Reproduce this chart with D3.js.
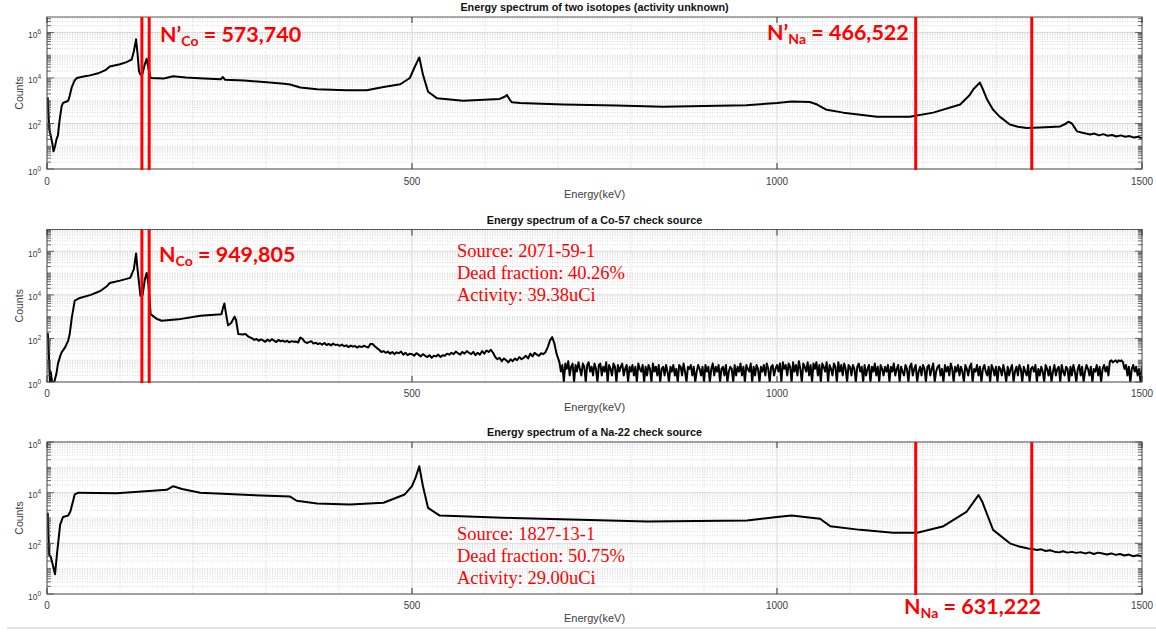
<!DOCTYPE html>
<html>
<head>
<meta charset="utf-8">
<script src="https://cdn.jsdelivr.net/npm/d3@7"></script>
<style>
  body { margin: 0; background: #fff; }
  svg { display: block; font-family: "Liberation Sans", Arial, sans-serif; }
</style>
</head>
<body>
<div class="canva"></div>
<script>
// ---- data (energy keV, counts) ----
const xTicks = [0, 500, 1000, 1500];
const yTickExp = [0, 2, 4, 6];
const titles = [
  'Energy spectrum of two isotopes (activity unknown)',
  'Energy spectrum of a Co-57 check source',
  'Energy spectrum of a Na-22 check source'
];
const coWindow = [130, 140];
const naWindow = [1190, 1349];

const mixPts = [
  [1,1400],[2,300],[3,60],[5,30],[7,15],[9,6],[11,10],[13,20],[15,30],[17,120],[20,560],[22,800],
  [26,900],[29,1000],[31,1600],[34,4000],[38,8000],[41,10000],[50,11500],[59,13000],[70,16000],
  [80,22000],[86,32000],[100,40000],[109,50000],[116,65000],[119,150000],[122,500000],[124,120000],
  [126,20000],[128,14000],[131,16000],[134,40000],[136.5,70000],[139,25000],[142,10000],[160,9500],
  [173,12000],[190,10500],[215,9500],[238,8800],[241,11000],[244,8300],[270,7800],[301,6500],
  [325,5600],[333,5200],[347,3800],[370,3200],[410,2900],[438,2900],[461,4000],[484,5300],
  [497,10000],[504,32000],[510,80000],[515,14000],[522,2500],[534,1300],[570,1000],[620,1200],
  [627,1500],[630,1800],[634,1100],[637,850],[648,800],[707,680],[780,620],[844,550],[900,580],
  [958,630],[1000,800],[1020,930],[1045,880],[1055,680],[1068,400],[1091,300],[1137,200],
  [1182,200],[1214,300],[1251,680],[1264,1800],[1269,3200],[1278,6300],[1282,3200],[1288,1100],
  [1296,400],[1305,200],[1319,90],[1330,72],[1342,63],[1360,66],[1375,70],[1388,74],[1396,100],
  [1399,120],[1404,100],[1411,45],[1417,40],[1423,36],[1429,33],[1435,36],[1441,30],[1447,34],
  [1453,29],[1459,31],[1465,27],[1471,30],[1477,26],[1483,28],[1489,24],[1495,26],[1500,22]
];

const coPts = [
  [1,180],[2,60],[3,8],[4,1],[5,3],[7,1],[10,1],[13,2.5],[15,7],[18,15],[20,23],[25,40],[29,80],
  [31,150],[34,900],[38,5400],[45,7200],[60,10000],[73,15000],[82,25000],[86,35000],[100,45000],
  [114,60000],[119,150000],[122,800000],[124,150000],[128,9000],[131,10000],[134,50000],
  [136.5,100000],[139,30000],[142,1300],[150,800],[157,650],[180,750],[210,1100],[239,1300],
  [241,2500],[243,4000],[245,1500],[248,400],[252,500],[257,1000],[259,700],[262,160],[268,150],
  [272,160],[276,120]
];
// Co-57 continuum, one value every 3 keV from 281 keV
const coMidStart = 281, coMidStep = 3;
const coMid = [
  100,85,95,78,90,82,70,88,75,92,80,68,85,74,80,70,78,66,75,70,
  72,65,110,95,70,62,68,75,58,64,55,60,52,62,50,56,48,58,50,52,
  46,52,44,48,40,47,42,45,38,44,40,46,42,38,55,56,44,36,30,24,
  26,22,25,20,24,19,23,21,25,18,22,17,20,19,16,21,18,15,19,16,
  14,17,13,16,15,18,14,17,16,20,18,22,19,25,21,18,24,20,26,22,
  19,24,17,22,18,26,20,28,24,30,22,14,11,13,9,12,10,8,11,9,
  12,10,14,11,13,16,12,20,15,22,18,16,21,19,24,40,80,115,60,20
];
// Co-57 noisy tail, one value every 2 keV from 702 keV
const coNoiseStart = 702, coNoiseStep = 2;
const coNoise = [
  8,3,6,1,7,4,9,2,5,7,1,6,3,8,4,2,7,5,1,6,8,3,5,2,7,
  4,1,6,7,2,5,3,8,1,6,4,2,7,5,1,6,3,5,7,2,4,6,1,5,3,
  6,2,5,1,7,4,3,6,1,5,2,6,4,1,7,3,5,2,6,1,4,5,2,6,3,
  1,5,3,6,2,4,1,6,5,2,7,3,1,5,4,6,2,5,1,3,6,4,2,5,1,
  6,3,5,1,4,7,2,5,3,6,1,4,5,2,6,1,3,5,4,1,6,2,5,3,7,
  2,5,1,6,4,3,7,1,5,2,6,4,1,5,3,6,2,7,4,1,5,6,2,4,6,
  3,7,1,8,4,6,2,7,5,1,8,3,6,2,9,4,1,7,5,3,8,2,6,1,7,
  4,8,2,6,1,7,5,3,8,1,6,4,2,7,5,1,8,3,6,2,7,4,1,6,5,
  2,6,4,1,5,7,3,5,1,6,2,4,6,1,5,3,7,2,5,1,6,4,2,5,3,
  6,1,5,3,7,2,4,6,1,5,3,2,6,4,1,5,7,2,4,6,1,3,5,2,6,
  4,1,5,6,2,4,7,1,3,5,6,2,4,1,6,3,5,2,7,4,1,5,3,6,2,
  5,3,1,6,4,2,5,7,1,4,3,6,2,5,1,4,6,3,2,5,1,6,4,2,5,
  1,5,4,2,6,3,1,5,2,4,6,1,3,5,2,6,4,1,5,3,2,6,1,4,5,
  3,6,1,4,2,5,3,1,6,4,2,5,1,3,6,2,4,5,1,6,3,2,5,4,1,
  5,2,6,3,1,4,6,2,5,1,3,6,4,2,5,1,4,3,6,2,5,1,4,6,3,
  5,2,9,10,8,9,10,8,10,9,10,8,4,6,2,5,1,4,6,3,5,2,4,1,5
];

const naPts = [
  [1,1600],[3,35],[5,30],[8,14],[11,6],[14,47],[18,550],[22,1100],[29,1250],[32,1800],[38,8500],
  [43,10000],[95,9500],[130,11000],[164,13000],[173,18000],[185,14000],[210,10000],[278,8000],
  [333,7000],[342,4800],[370,3700],[415,3400],[461,4000],[490,8500],[500,18000],[505,40000],
  [510,110000],[515,18000],[522,2500],[538,1250],[638,1000],[822,720],[959,800],[1000,1100],
  [1020,1250],[1059,930],[1073,470],[1114,340],[1159,260],[1192,260],[1227,460],[1260,1800],
  [1276,8000],[1281,4500],[1296,340],[1319,100],[1326,85],[1332,75],[1338,68],[1344,62],
  [1350,60],[1356,55],[1362,58],[1368,50],[1374,53],[1380,47],[1386,44],[1392,49],[1398,43],
  [1404,46],[1410,42],[1416,45],[1422,40],[1428,44],[1434,38],[1440,43],[1446,40],[1452,36],
  [1458,40],[1464,35],[1470,38],[1476,33],[1482,36],[1488,31],[1494,34],[1500,30]
];

const coInfo = ['Source: 2071-59-1', 'Dead fraction: 40.26%', 'Activity: 39.38uCi'];
const naInfo = ['Source: 1827-13-1', 'Dead fraction: 50.75%', 'Activity: 29.00uCi'];

// Co-57 series assembled from the pieces above
const coSeries = coPts
  .concat(coMid.map((v, i) => [coMidStart + i * coMidStep, v]))
  .concat(coNoise.map((v, i) => [coNoiseStart + i * coNoiseStep, v]));

// ---- layout ----
const svg = d3.select('.canva').append('svg')
  .attr('width', 1156).attr('height', 632);

const x = d3.scaleLinear().domain([0, 1500]).range([47, 1142]);

const panels = [
  { title: titles[0], top: 17, bottom: 169, yMax: Math.pow(10, 6.68), data: mixPts,
    titleY: 11, tickY: 185, labelY: 198, windows: [coWindow, naWindow] },
  { title: titles[1], top: 229.5, bottom: 382, yMax: 1e7, data: coSeries,
    titleY: 224, tickY: 397, labelY: 411, windows: [coWindow] },
  { title: titles[2], top: 442, bottom: 594, yMax: 1e6, data: naPts,
    titleY: 436, tickY: 609, labelY: 622, windows: [naWindow] }
];

panels.forEach((p, i) => {
  const y = d3.scaleLog().domain([1, p.yMax]).range([p.bottom, p.top]);
  const g = svg.append('g');
  const x0 = x.range()[0], x1 = x.range()[1];

  // grid
  const minorX = d3.range(100, 1500, 100).filter(v => v % 500 !== 0);
  const minorY = [];
  for (let d = 0; d < 7; d++) {
    for (let k = 1; k < 10; k++) {
      const v = k * Math.pow(10, d);
      if (v < p.yMax && !(k === 1 && yTickExp.includes(d))) minorY.push(v);
    }
  }
  g.selectAll('.mgx').data(minorX).enter().append('line')
    .attr('x1', d => x(d)).attr('x2', d => x(d)).attr('y1', p.top).attr('y2', p.bottom)
    .attr('stroke', '#cfcfcf').attr('stroke-width', 0.8).attr('stroke-dasharray', '1,1.5');
  g.selectAll('.mgy').data(minorY).enter().append('line')
    .attr('x1', x0).attr('x2', x1).attr('y1', d => y(d)).attr('y2', d => y(d))
    .attr('stroke', '#cfcfcf').attr('stroke-width', 0.8).attr('stroke-dasharray', '1,1.5');
  g.selectAll('.gx').data(xTicks).enter().append('line')
    .attr('x1', d => x(d)).attr('x2', d => x(d)).attr('y1', p.top).attr('y2', p.bottom)
    .attr('stroke', '#dadada').attr('stroke-width', 1);
  g.selectAll('.gy').data(yTickExp).enter().append('line')
    .attr('x1', x0).attr('x2', x1).attr('y1', d => y(Math.pow(10, d))).attr('y2', d => y(Math.pow(10, d)))
    .attr('stroke', '#dadada').attr('stroke-width', 1);

  // spectrum
  const clipId = 'clip' + i;
  svg.append('clipPath').attr('id', clipId).append('rect')
    .attr('x', x0).attr('y', p.top).attr('width', x1 - x0).attr('height', p.bottom - p.top);
  const line = d3.line().x(d => x(d[0])).y(d => y(d[1]));
  g.append('path').datum(p.data)
    .attr('clip-path', 'url(#' + clipId + ')')
    .attr('d', line).attr('fill', 'none')
    .attr('stroke', '#000').attr('stroke-width', 2).attr('stroke-linejoin', 'round');

  // box and ticks
  g.append('rect').attr('x', x0).attr('y', p.top).attr('width', x1 - x0).attr('height', p.bottom - p.top)
    .attr('fill', 'none').attr('stroke', '#555').attr('stroke-width', 1);
  xTicks.forEach(v => {
    g.append('line').attr('x1', x(v)).attr('x2', x(v)).attr('y1', p.bottom).attr('y2', p.bottom - 6)
      .attr('stroke', '#333');
    g.append('line').attr('x1', x(v)).attr('x2', x(v)).attr('y1', p.top).attr('y2', p.top + 6)
      .attr('stroke', '#333');
    g.append('text').attr('x', x(v)).attr('y', p.tickY).attr('text-anchor', 'middle')
      .attr('font-size', 10).attr('fill', '#404040').text(v);
  });
  const yTickLines = minorY.map(v => [v, 4]).concat(yTickExp.map(d => [Math.pow(10, d), 7]));
  yTickLines.forEach(t => {
    g.append('line').attr('x1', x0).attr('x2', x0 + t[1]).attr('y1', y(t[0])).attr('y2', y(t[0]))
      .attr('stroke', '#444').attr('stroke-width', 0.8);
    g.append('line').attr('x1', x1).attr('x2', x1 - t[1]).attr('y1', y(t[0])).attr('y2', y(t[0]))
      .attr('stroke', '#444').attr('stroke-width', 0.8);
  });
  yTickExp.forEach(d => {
    const t = g.append('text').attr('x', 41).attr('y', y(Math.pow(10, d)) + 5.5)
      .attr('text-anchor', 'end').attr('font-size', 8.5).attr('fill', '#404040');
    t.append('tspan').text('10');
    t.append('tspan').attr('dy', -4).attr('font-size', 6.5).text(d);
  });

  // labels
  g.append('text').attr('x', (x0 + x1) / 2).attr('y', p.titleY).attr('text-anchor', 'middle')
    .attr('font-size', 10.8).attr('font-weight', 'bold').attr('fill', '#111').text(p.title);
  g.append('text').attr('x', (x0 + x1) / 2).attr('y', p.labelY).attr('text-anchor', 'middle')
    .attr('font-size', 11).attr('fill', '#404040').text('Energy(keV)');
  const cy = (p.top + p.bottom) / 2;
  g.append('text').attr('transform', 'translate(23,' + cy + ') rotate(-90)')
    .attr('text-anchor', 'middle').attr('font-size', 10.5).attr('fill', '#404040').text('Counts');

  // red integration windows
  p.windows.forEach(w => {
    w.forEach(e => {
      g.append('line').attr('x1', x(e)).attr('x2', x(e)).attr('y1', p.top).attr('y2', p.bottom + 1)
        .attr('stroke', '#ff0000').attr('stroke-width', 3);
    });
  });
});

// ---- annotations ----
function countLabel(px, py, sub, value, prime) {
  const t = svg.append('text').attr('x', px).attr('y', py)
    .attr('font-family', 'Lato, "Open Sans", sans-serif').attr('font-weight', 'bold')
    .attr('font-size', 21.5).attr('fill', '#ff0000');
  t.append('tspan').text(prime ? 'N\u2019' : 'N');
  t.append('tspan').attr('dy', 4).attr('font-size', 14).text(sub);
  t.append('tspan').attr('dy', -4).text(' = ' + value);
}
countLabel(160, 42, 'Co', '573,740', true);
countLabel(767, 39.5, 'Na', '466,522', true);
countLabel(159, 262, 'Co', '949,805', false);
countLabel(904, 614, 'Na', '631,222', false);

function infoBlock(lines, px, py) {
  lines.forEach((s, i) => {
    svg.append('text').attr('x', px).attr('y', py + i * 22)
      .attr('font-family', '"Liberation Serif", "Times New Roman", serif')
      .attr('font-size', 18.5).attr('fill', '#ff0000').text(s);
  });
}
infoBlock(coInfo, 457, 257);
infoBlock(naInfo, 457, 540);

svg.append('line').attr('x1', 7).attr('x2', 1156).attr('y1', 628).attr('y2', 628)
  .attr('stroke', '#c8c8c8').attr('stroke-width', 1);
</script>
</body>
</html>
